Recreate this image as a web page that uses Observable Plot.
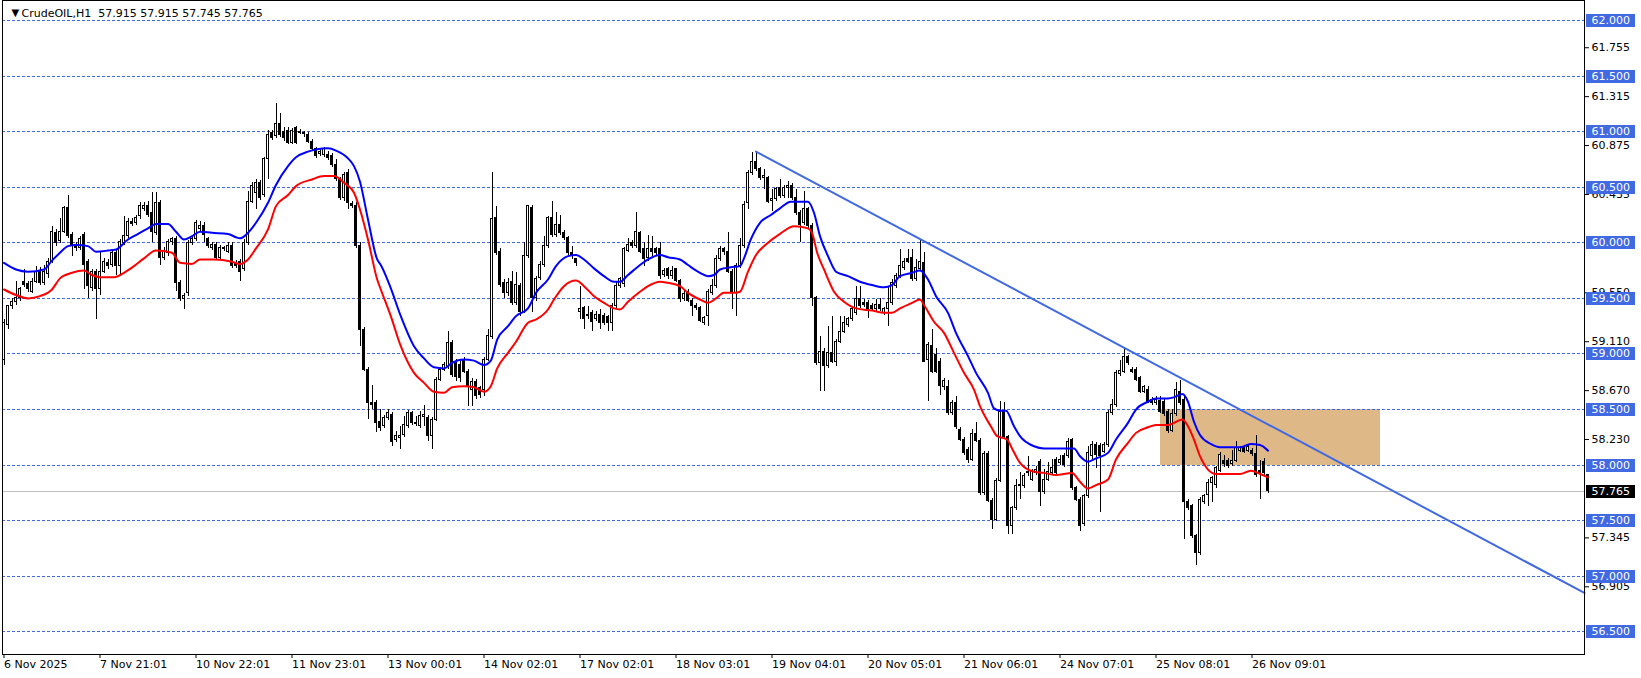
<!DOCTYPE html>
<html><head><meta charset="utf-8">
<script src="https://cdn.jsdelivr.net/npm/d3@7"></script>
<script src="https://cdn.jsdelivr.net/npm/@observablehq/plot@0.6"></script>
<style>html,body{margin:0;padding:0;background:#fff;} #chart{width:1641px;height:678px;}</style>
</head><body><div id="chart"></div>
<script>
const symbol = "CrudeOIL,H1";
const timeIdx = [0,24,48,72,96,120,144,168,192,216,240,264,288,312];
const timeLabels = ["6 Nov 2025","7 Nov 21:01","10 Nov 22:01","11 Nov 23:01","13 Nov 00:01","14 Nov 02:01","17 Nov 02:01","18 Nov 03:01","19 Nov 04:01","20 Nov 05:01","21 Nov 06:01","24 Nov 07:01","25 Nov 08:01","26 Nov 09:01"];
const levels = [62.0,61.5,61.0,60.5,60.0,59.5,59.0,58.5,58.0,57.5,57.0,56.5];
const priceTicks = [61.755,61.315,60.875,60.435,59.550,59.110,58.670,58.230,57.345,56.905];

const open = [
58.95,59.26,59.43,59.47,59.50,59.65,59.63,59.56,59.65,59.74,
59.64,59.72,59.83,60.09,60.02,60.10,60.31,60.07,59.98,59.95,
60.07,59.83,59.59,59.74,59.58,59.74,59.82,59.80,59.91,59.79,
60.00,60.06,60.19,60.18,60.24,60.30,60.33,60.27,60.09,60.36,
59.86,59.91,60.01,60.03,59.64,59.49,59.55,60.00,60.03,60.12,
60.15,60.03,59.95,59.98,59.86,59.95,59.92,59.97,59.82,59.83,
59.76,60.00,60.37,60.45,60.54,60.43,60.75,60.99,60.96,61.07,
61.00,61.01,60.90,61.03,61.00,60.99,60.97,60.91,60.84,60.80,
60.79,60.79,60.78,60.70,60.57,60.40,60.63,60.35,60.33,59.97,
59.22,58.86,58.56,58.56,58.39,58.35,58.42,58.45,58.23,58.24,
58.27,58.35,58.47,58.38,58.35,58.43,58.42,58.26,58.41,58.77,
58.86,58.88,59.10,58.93,58.90,58.95,58.84,58.68,58.75,58.69,
58.68,58.95,59.15,60.22,59.92,59.64,59.55,59.65,59.46,59.61,
59.38,59.88,60.31,59.50,59.68,59.80,59.97,60.22,60.07,60.16,
60.09,60.04,59.91,59.85,59.38,59.41,59.35,59.37,59.31,59.35,
59.34,59.33,59.28,59.43,59.61,59.63,59.93,60.00,59.97,60.09,
59.94,59.86,59.94,59.94,59.94,59.71,59.76,59.70,59.76,59.66,
59.49,59.56,59.48,59.43,59.41,59.28,59.34,59.55,59.61,59.85,
59.94,59.92,59.74,59.55,59.79,59.97,60.36,60.63,60.73,60.66,
60.58,60.58,60.38,60.39,60.49,60.42,60.49,60.51,60.40,60.27,
60.18,60.30,60.15,59.50,58.92,59.02,58.89,59.01,58.93,59.11,
59.20,59.26,59.31,59.37,59.49,59.46,59.46,59.43,59.40,59.44,
59.37,59.40,59.46,59.61,59.70,59.77,59.85,59.86,59.67,59.76,
59.82,58.95,59.07,58.99,58.93,58.70,58.70,58.47,58.56,58.32,
58.23,58.14,58.05,58.28,58.22,57.75,58.10,57.68,57.51,57.86,
58.48,58.25,57.45,57.61,57.81,57.81,57.94,57.87,57.93,58.03,
57.76,57.87,57.93,58.05,58.02,58.08,58.08,58.23,57.79,57.69,
57.47,57.72,58.08,58.18,58.17,58.12,58.18,58.47,58.54,58.82,
58.84,58.97,58.86,58.86,58.78,58.66,58.68,58.59,58.56,58.58,
58.57,58.48,58.31,58.46,58.66,58.59,57.67,57.63,57.36,57.21,
57.67,57.73,57.84,57.82,57.95,58.04,58.04,58.01,58.04,58.13,
58.16,58.13,58.13,58.10,57.95,58.03,57.915];

const high = [
59.31,59.44,59.50,59.65,59.60,59.76,59.65,59.68,59.79,59.78,
59.80,59.86,60.15,60.12,60.22,60.33,60.43,60.09,60.00,60.06,
60.09,59.85,59.76,59.76,59.91,59.86,59.85,59.93,59.93,60.03,
60.24,60.22,60.22,60.25,60.36,60.36,60.37,60.45,60.45,60.38,
59.96,60.03,60.05,60.06,59.66,59.54,60.02,60.06,60.20,60.19,
60.18,60.05,60.00,60.00,59.98,59.97,60.00,60.00,59.84,59.85,
60.03,60.46,60.54,60.57,60.56,60.77,61.01,61.01,61.25,61.16,
61.04,61.04,61.03,61.05,61.02,61.00,60.99,60.93,60.86,60.84,
60.86,60.82,60.80,60.75,60.59,60.63,60.66,60.37,60.36,60.00,
59.24,58.88,58.72,58.58,58.50,58.45,58.50,58.47,58.30,58.35,
58.44,58.49,58.48,58.44,58.48,58.54,58.45,58.43,58.79,58.88,
58.92,59.20,59.12,58.95,58.93,58.97,58.86,58.78,58.77,58.71,
58.97,59.22,60.63,60.33,59.95,59.67,59.68,59.74,59.73,59.63,
60.00,60.34,60.34,59.70,59.83,60.06,60.24,60.37,60.27,60.25,
60.11,60.06,59.97,59.86,59.61,59.43,59.43,59.39,59.38,59.40,
59.36,59.35,59.45,59.64,59.69,59.96,60.04,60.02,60.27,60.10,
60.00,60.07,60.06,59.96,60.00,59.77,59.78,59.79,59.76,59.67,
59.57,59.58,59.50,59.45,59.43,59.34,59.58,59.67,59.89,59.97,
59.96,60.09,59.76,59.81,60.04,60.37,60.65,60.81,60.82,60.68,
60.66,60.60,60.48,60.50,60.57,60.52,60.55,60.53,60.48,60.29,
60.46,60.32,60.17,59.52,59.16,59.05,59.25,59.34,59.13,59.34,
59.34,59.33,59.42,59.61,59.61,59.49,59.48,59.45,59.49,59.50,
59.42,59.61,59.67,59.72,59.94,59.86,59.94,59.94,59.85,60.03,
59.91,59.10,59.22,59.05,58.96,58.78,58.76,58.58,58.62,58.34,
58.25,58.16,58.32,58.38,58.24,58.12,58.12,57.70,57.88,58.57,
58.56,58.27,57.63,57.87,57.93,57.92,58.08,57.96,57.99,58.05,
57.96,58.02,58.05,58.07,58.09,58.10,58.24,58.24,57.81,57.71,
57.74,58.17,58.21,58.20,58.19,58.20,58.49,58.59,58.85,58.94,
59.06,58.99,58.88,58.88,58.80,58.72,58.71,58.61,58.62,58.62,
58.60,58.50,58.50,58.74,58.76,58.62,57.69,57.65,57.38,57.71,
57.74,57.87,57.90,57.99,58.11,58.09,58.06,58.13,58.21,58.17,
58.18,58.18,58.15,58.27,58.04,58.06,57.915];

const low = [
58.90,59.22,59.40,59.44,59.47,59.60,59.55,59.54,59.63,59.62,
59.62,59.68,59.81,59.97,59.99,60.08,60.04,59.88,59.92,59.93,
59.58,59.50,59.56,59.31,59.53,59.72,59.76,59.78,59.71,59.70,
59.98,60.04,60.15,60.16,60.21,60.28,60.23,60.00,60.07,59.80,
59.84,59.88,59.98,59.56,59.47,59.40,59.52,59.98,60.01,60.10,
60.00,59.95,59.93,59.84,59.84,59.92,59.90,59.77,59.77,59.65,
59.74,59.98,60.35,60.30,60.38,60.41,60.57,60.92,60.94,60.95,
60.91,60.88,60.88,60.88,60.97,60.95,60.89,60.82,60.76,60.78,
60.77,60.74,60.68,60.55,60.38,60.37,60.30,60.31,59.95,59.07,
58.84,58.41,58.50,58.29,58.30,58.33,58.40,58.17,58.20,58.14,
58.25,58.33,58.36,58.35,58.33,58.35,58.21,58.14,58.39,58.75,
58.84,58.86,58.79,58.75,58.74,58.82,58.53,58.53,58.59,58.60,
58.62,58.93,59.13,59.89,59.60,59.50,59.52,59.44,59.44,59.34,
59.36,59.86,59.37,59.47,59.66,59.78,59.95,60.05,60.05,60.07,
60.02,59.89,59.85,59.79,59.31,59.22,59.31,59.20,59.29,59.22,
59.26,59.20,59.20,59.41,59.59,59.60,59.91,59.95,59.95,59.90,
59.79,59.83,59.88,59.89,59.67,59.69,59.67,59.67,59.64,59.46,
59.47,59.46,59.34,59.39,59.28,59.26,59.25,59.53,59.59,59.83,
59.89,59.72,59.40,59.34,59.77,59.95,60.30,60.61,60.64,60.56,
60.48,60.35,60.28,60.37,60.40,60.40,60.40,60.38,60.25,60.00,
60.16,60.13,59.43,58.90,58.66,58.66,58.87,58.91,58.89,59.09,
59.18,59.24,59.29,59.35,59.41,59.42,59.32,59.38,59.38,59.38,
59.35,59.25,59.44,59.59,59.68,59.75,59.81,59.65,59.65,59.74,
58.92,58.57,58.82,58.82,58.63,58.67,58.45,58.45,58.32,58.21,
58.09,58.01,58.03,58.20,57.73,57.73,57.66,57.42,57.49,57.84,
58.23,57.38,57.38,57.59,57.69,57.79,57.90,57.85,57.91,57.63,
57.74,57.85,57.91,57.91,58.00,57.98,58.06,57.77,57.67,57.40,
57.45,57.70,58.05,57.97,57.57,58.10,58.16,58.45,58.52,58.80,
58.82,58.90,58.82,58.75,58.64,58.64,58.55,58.54,58.54,58.46,
58.44,58.28,58.29,58.44,58.54,57.33,57.59,57.34,57.10,57.19,
57.65,57.63,57.66,57.79,57.93,57.98,57.97,57.99,58.02,58.11,
58.10,58.11,58.08,57.89,57.69,57.90,57.745];

const close = [
59.28,59.43,59.47,59.50,59.58,59.62,59.58,59.65,59.74,59.64,
59.74,59.83,60.10,60.00,60.10,60.31,60.06,59.97,59.95,60.03,
59.80,59.61,59.74,59.58,59.74,59.83,59.79,59.91,59.79,60.01,
60.06,60.19,60.17,60.22,60.33,60.33,60.25,60.10,60.36,59.86,
59.92,60.01,60.03,59.64,59.49,59.52,60.00,60.03,60.18,60.15,
60.07,59.97,59.98,59.86,59.95,59.94,59.97,59.79,59.79,59.74,
60.00,60.37,60.51,60.54,60.40,60.75,60.97,60.94,61.07,60.97,
60.94,60.90,61.01,60.90,60.99,60.98,60.91,60.84,60.78,60.82,
60.84,60.76,60.70,60.57,60.40,60.61,60.36,60.33,59.97,59.22,
58.86,58.56,58.54,58.38,58.33,58.42,58.47,58.21,58.26,58.26,
58.36,58.47,58.38,58.37,58.44,58.45,58.26,58.41,58.77,58.86,
58.90,59.10,58.81,58.79,58.78,58.84,58.71,58.75,58.62,58.63,
58.95,59.16,60.21,59.91,59.62,59.55,59.64,59.46,59.62,59.38,
59.88,60.33,59.50,59.67,59.80,59.97,60.22,60.07,60.16,60.09,
60.04,59.91,59.88,59.82,59.40,59.31,59.34,59.29,59.35,59.28,
59.28,59.28,59.43,59.61,59.67,59.94,59.98,59.97,60.10,59.92,
59.85,59.94,59.92,59.91,59.70,59.75,59.70,59.75,59.66,59.49,
59.54,59.48,59.43,59.41,59.30,59.32,59.56,59.61,59.85,59.94,
59.92,59.74,59.55,59.79,59.97,60.34,60.63,60.73,60.66,60.58,
60.60,60.37,60.39,60.48,60.42,60.49,60.51,60.40,60.27,60.16,
60.30,60.15,59.50,58.92,59.02,58.89,59.01,58.93,59.11,59.20,
59.28,59.31,59.40,59.49,59.43,59.44,59.40,59.40,59.44,59.40,
59.40,59.46,59.64,59.70,59.79,59.83,59.83,59.67,59.77,59.83,
58.93,59.08,58.84,58.84,58.71,58.76,58.47,58.56,58.34,58.23,
58.11,58.05,58.28,58.22,57.75,58.10,57.68,57.51,57.86,58.48,
58.25,57.45,57.61,57.81,57.82,57.90,57.93,57.94,57.96,57.76,
57.87,57.94,57.97,57.93,58.05,58.00,58.21,57.79,57.69,57.45,
57.72,58.11,58.18,58.09,58.08,58.18,58.47,58.54,58.83,58.85,
58.97,58.92,58.84,58.77,58.66,58.70,58.57,58.56,58.59,58.48,
58.46,58.31,58.46,58.68,58.56,57.67,57.61,57.36,57.21,57.69,
57.72,57.84,57.88,57.97,58.09,58.01,57.99,58.04,58.15,58.15,
58.12,58.16,58.10,57.91,57.92,57.93,57.765];

// moving averages: [bar index, price]
const maBlue = [[0,59.82],[3,59.76],[6,59.74],[10,59.76],[12,59.84],[14,59.91],[16,59.97],[18,59.98],[21,59.97],[23,59.92],[26,59.93],[28,59.94],[31,60.03],[33,60.07],[36,60.13],[38,60.17],[41,60.17],[43,60.10],[45,60.03],[47,60.06],[49,60.10],[52,60.09],[56,60.08],[58,60.05],[59,60.04],[61,60.09],[63,60.18],[66,60.36],[68,60.52],[71,60.69],[73,60.77],[76,60.82],[78,60.84],[81,60.85],[83,60.83],[86,60.76],[87.5,60.69],[89,60.55],[91,60.21],[93.3,59.85],[94.2,59.80],[96.5,59.61],[99.2,59.34],[102.5,59.07],[105,58.96],[107.5,58.88],[110,58.87],[112,58.92],[115,58.95],[117.5,58.94],[120,58.90],[121.7,58.94],[123.3,59.13],[126,59.25],[128,59.34],[131,59.41],[133,59.55],[136,59.67],[138,59.79],[141,59.88],[143,59.89],[145,59.85],[147.5,59.77],[150,59.70],[152.5,59.65],[154,59.65],[156,59.71],[159,59.80],[161,59.85],[164,59.89],[166,59.87],[169,59.85],[171,59.80],[174,59.73],[176,59.70],[177.5,59.71],[179,59.76],[181.7,59.78],[184,59.79],[185,59.86],[186.7,60.03],[189,60.18],[191.7,60.25],[194,60.31],[196.7,60.37],[201,60.37],[202.5,60.27],[204,60.06],[206,59.88],[208,59.74],[211,59.70],[214,59.65],[217,59.62],[220,59.60],[222,59.62],[224,59.70],[227,59.73],[229,59.75],[231,59.67],[233,59.52],[236,59.37],[238,59.19],[241,58.98],[243,58.83],[246,58.65],[247.5,58.51],[249,58.49],[250.5,58.49],[252.5,58.35],[254,58.26],[257.5,58.17],[260,58.15],[263,58.15],[267.5,58.15],[269,58.08],[271,58.03],[273,58.06],[276,58.11],[278,58.23],[281,58.38],[283,58.50],[286,58.57],[288,58.60],[291,58.60],[292.5,58.61],[294.6,58.64],[296,58.57],[297.5,58.39],[299,58.27],[301.7,58.19],[304,58.16],[307,58.16],[309,58.16],[311.7,58.19],[314,58.18],[316,58.13]];
const maRed = [[0,59.58],[3,59.53],[6,59.50],[9,59.52],[12,59.58],[14,59.68],[17,59.73],[20,59.75],[22,59.71],[24,59.69],[27.5,59.69],[30,59.73],[32.5,59.79],[35,59.86],[38,59.93],[42,59.91],[44,59.82],[47,59.81],[49,59.85],[52.5,59.85],[57,59.83],[59,59.81],[61,59.85],[63,59.95],[66,60.12],[68,60.33],[71,60.43],[73,60.51],[77,60.57],[80,60.60],[82.5,60.60],[85,60.54],[87.5,60.45],[89,60.30],[91,60.03],[93.3,59.67],[94.2,59.58],[96.7,59.34],[99.2,59.07],[102.5,58.83],[105,58.74],[107.5,58.66],[110,58.65],[112,58.70],[115,58.71],[117.5,58.70],[120,58.66],[121.7,58.71],[123.3,58.87],[126,59.01],[128,59.11],[131,59.28],[133,59.31],[136,59.40],[137.5,59.49],[140,59.61],[143,59.66],[145,59.61],[147.5,59.52],[150,59.46],[152.5,59.41],[154,59.40],[156,59.47],[159,59.56],[161,59.61],[164,59.65],[166,59.64],[169,59.61],[171,59.55],[174,59.49],[176,59.46],[178,59.50],[180,59.55],[182.5,59.55],[184,59.56],[186,59.74],[188,59.89],[191,60.00],[194,60.08],[197.5,60.15],[201,60.13],[202,60.09],[203.3,59.91],[205,59.76],[207.5,59.56],[210,59.47],[213,59.41],[217,59.39],[220,59.37],[222,59.37],[224,59.41],[227,59.46],[229,59.49],[230,59.44],[232.5,59.29],[235,59.19],[237.5,59.01],[240,58.83],[242.5,58.68],[244,58.53],[246.7,58.35],[248.3,58.26],[250.8,58.23],[252,58.15],[254,58.02],[257.5,57.94],[260,57.93],[263,57.91],[267,57.93],[269,57.85],[271,57.79],[273,57.82],[276,57.87],[278,58.05],[281,58.20],[283,58.29],[286,58.34],[288,58.36],[291,58.36],[292.5,58.38],[294.6,58.41],[296,58.35],[297.5,58.23],[299,58.08],[301,57.96],[303,57.92],[307,57.92],[309,57.92],[311.7,57.95],[314,57.92],[316,57.89]];

// trend line (ray) and zone rectangle
const trendIdx = [188, 395.1];
const trendPrice = [60.82, 56.85];
const zoneIdx = [289, 344];
const zonePrice = [58.0, 58.5];

const n = Math.min(open.length, high.length, low.length, close.length);
const bars = d3.range(n).map(i => ({i, open: open[i], high: high[i], low: low[i], close: close[i]}));
const bulls = bars.filter(d => d.close >= d.open);
const bears = bars.filter(d => d.close < d.open);
const last = bars[n - 1];
const blueData = maBlue.map(([i, v]) => ({i, v}));
const redData = maRed.map(([i, v]) => ({i, v}));
const trendData = trendIdx.map((i, k) => ({i, v: trendPrice[k]}));
const zoneData = [{x1: zoneIdx[0], x2: zoneIdx[1], y1: zonePrice[0], y2: zonePrice[1]}];
const f3 = d3.format(".3f");
const header = `\u00a0\u00a0${f3(last.open)} ${f3(last.high)} ${f3(last.low)} ${f3(last.close)}`;

const LEVEL_BLUE = "#4169E1";
const crisp = "crispEdges";

const chart = Plot.plot({
  width: 1641, height: 678,
  marginLeft: 2, marginRight: 57, marginTop: 0, marginBottom: 24,
  x: {domain: [-0.375, 395.125]},
  y: {domain: [56.296, 62.18]},
  style: {fontFamily: "'DejaVu Sans', sans-serif", fontSize: "11px", background: "white", color: "black", overflow: "visible"},
  marks: [
    Plot.rect(zoneData, {x1: "x1", x2: "x2", y1: "y1", y2: "y2", fill: "#DEB887", shapeRendering: crisp}),
    Plot.ruleY(levels, {stroke: LEVEL_BLUE, strokeDasharray: "3,2", shapeRendering: crisp}),
    Plot.ruleY([last.close], {stroke: "#C0C0C0", shapeRendering: crisp}),
    Plot.ruleX(bars, {x: "i", y1: "low", y2: "high", stroke: "black", strokeWidth: 1, shapeRendering: crisp}),
    Plot.rect(bulls, {x1: d => d.i - 0.25, x2: d => d.i + 0.25, y1: "open", y2: "close", fill: "white", stroke: "black", shapeRendering: crisp}),
    Plot.rect(bears, {x1: d => d.i - 0.25, x2: d => d.i + 0.25, y1: "open", y2: "close", fill: "black", stroke: "black", shapeRendering: crisp}),
    Plot.line(blueData, {x: "i", y: "v", stroke: "#0000FF", strokeWidth: 2, curve: "monotone-x"}),
    Plot.line(redData, {x: "i", y: "v", stroke: "#FF0000", strokeWidth: 2, curve: "monotone-x"}),
    Plot.line(trendData, {x: "i", y: "v", stroke: LEVEL_BLUE, strokeWidth: 2}),
    Plot.frame({stroke: "black", shapeRendering: crisp}),
    Plot.axisY({ticks: priceTicks, anchor: "right", tickSize: 4, tickPadding: 3, tickFormat: f3, label: null, fill: "black"}),
    Plot.axisX({ticks: timeIdx, tickFormat: d => timeLabels[timeIdx.indexOf(d)], anchor: "bottom", tickSize: 4, tickPadding: 2, textAnchor: "start", label: null, fill: "black"}),
    Plot.ruleY(levels, {stroke: LEVEL_BLUE, strokeWidth: 13, insetLeft: 1584, insetRight: -51, shapeRendering: crisp}),
    Plot.text(levels, {y: d => d, text: d => f3(d), frameAnchor: "right", dx: 7, textAnchor: "start", fill: "white"}),
    Plot.ruleY([last.close], {stroke: "black", strokeWidth: 13, insetLeft: 1584, insetRight: -51, shapeRendering: crisp}),
    Plot.text([last.close], {y: d => d, text: d => f3(d), frameAnchor: "right", dx: 7, textAnchor: "start", fill: "white"}),
    Plot.text(["\u25BC"], {frameAnchor: "top-left", dx: 9, dy: 12, fontSize: 10, fill: "black", lineAnchor: "middle"}),
    Plot.text([symbol + header], {frameAnchor: "top-left", dx: 19, dy: 13, textAnchor: "start", lineAnchor: "middle", fill: "black"})
  ]
});
document.getElementById("chart").appendChild(chart);
</script></body></html>
